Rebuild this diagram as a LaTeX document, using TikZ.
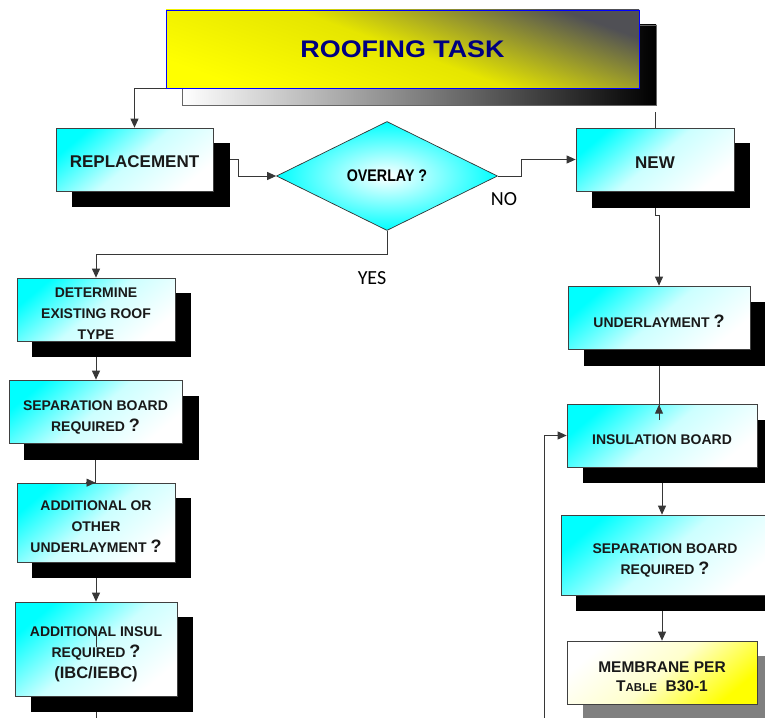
\documentclass[tikz,border=0pt]{standalone}
\usepackage{fontspec}
\setmainfont{Liberation Sans}
\newfontfamily\titlefont{Liberation Sans Bold}[FakeStretch=1.12]
\newfontfamily\narrowfont{Liberation Sans Bold}[FakeStretch=0.85]
\newfontfamily\labelfont{Carlito}
\usetikzlibrary{shapes.geometric,arrows.meta}
\definecolor{navyt}{RGB}{0,0,128}
\definecolor{titlegray}{RGB}{80,80,85}
\definecolor{linegray}{RGB}{55,55,55}
\newcommand{\bigq}{{\fontsize{18}{18}\selectfont ?}}
\newcommand{\dn}[1]{\rule{0pt}{#1}}
\tikzset{
  base/.style={rectangle, inner sep=0pt, anchor=center},
  boxfill/.style={base, draw=black!75, line width=0.7pt, top color=cyan, bottom color=white, middle color=cyan!20, shading angle=40, align=center, font=\bfseries\fontsize{14}{21}\selectfont, text=black!90},
  shadowbox/.style={base, fill=black},
  conn/.style={draw=linegray, line width=0.9pt, -{Triangle[length=9pt,width=8pt]}},
  plain/.style={draw=linegray, line width=0.9pt},
  lbl/.style={font=\labelfont\fontsize{20}{20}\selectfont, inner sep=0pt}
}
\begin{document}
\begin{tikzpicture}[x=1pt,y=-1pt]
\useasboundingbox (0,0) rectangle (765,717);
\clip (0,0) rectangle (765,717);

% title
\node[base, minimum width=474pt, minimum height=80pt, left color=white, right color=black, draw=black!60, line width=0.7pt] (titleS) at (419,65) {};
\node[base, minimum width=473pt, minimum height=78pt, top color=titlegray, bottom color=yellow, middle color=yellow!90!black, shading angle=-20, draw=blue, line width=0.7pt, font=\titlefont\fontsize{24}{24}\selectfont, text=navyt] (title) at (402.5,49) {ROOFING TASK};

% top row
\node[shadowbox, minimum width=158pt, minimum height=64pt] (repS) at (151,175) {};
\node[boxfill, minimum width=157pt, minimum height=63pt, font=\bfseries\fontsize{17}{20}\selectfont] (rep) at (134.5,159.5) {\dn{17pt}REPLACEMENT};
\node[shadowbox, minimum width=158pt, minimum height=65pt] (newS) at (671,175.5) {};
\node[boxfill, minimum width=158pt, minimum height=63pt, font=\bfseries\fontsize{17}{20}\selectfont] (new) at (655,159.5) {\dn{17pt}NEW};
\node[diamond, inner sep=0pt, minimum width=221pt, minimum height=109pt, draw=black!80, line width=0.7pt, inner color=white, outer color=cyan, font=\narrowfont\fontsize{16.8}{17}\selectfont] (ov) at (387,176) {OVERLAY ?};

% left column
\node[shadowbox, minimum width=159pt, minimum height=64pt] (detS) at (111.5,325) {};
\node[boxfill, minimum width=158pt, minimum height=63pt] (det) at (96,309.5) {\dn{18pt}DETERMINE\\EXISTING ROOF\\TYPE};
\node[shadowbox, minimum width=175pt, minimum height=64pt] (sep1S) at (111.5,428) {};
\node[boxfill, minimum width=173pt, minimum height=63pt] (sep1) at (95.5,411.5) {\dn{21pt}SEPARATION BOARD\\REQUIRED \bigq};
\node[shadowbox, minimum width=159pt, minimum height=80pt] (add1S) at (111.5,538) {};
\node[boxfill, minimum width=158pt, minimum height=79pt] (add1) at (96,522.5) {\dn{18pt}ADDITIONAL OR\\OTHER\\UNDERLAYMENT \bigq};
\node[shadowbox, minimum width=162pt, minimum height=95pt] (add2S) at (112,664.5) {};
\node[boxfill, minimum width=162pt, minimum height=94pt] (add2) at (96,649) {\dn{21pt}ADDITIONAL INSUL\\REQUIRED \bigq\\{\fontsize{16.5}{20}\selectfont (IBC/IEBC)}};

% right column
\node[shadowbox, minimum width=182pt, minimum height=64pt] (undS) at (675,334) {};
\node[boxfill, minimum width=182pt, minimum height=63pt] (und) at (659,317.5) {\dn{20pt}UNDERLAYMENT \bigq};
\node[shadowbox, minimum width=190pt, minimum height=63pt] (insS) at (678,451.5) {};
\node[boxfill, minimum width=190pt, minimum height=63pt] (ins) at (662,435.5) {\dn{18pt}INSULATION BOARD};
\node[shadowbox, minimum width=208pt, minimum height=80pt] (sep2S) at (680,571) {};
\node[boxfill, minimum width=208pt, minimum height=80pt] (sep2) at (665,555) {\dn{20pt}SEPARATION BOARD\\REQUIRED \bigq};
\node[base, fill=black!50, minimum width=190pt, minimum height=64pt] (memS) at (678,688) {};
\node[boxfill, top color=white, bottom color=yellow, middle color=yellow!20, shading angle=40, minimum width=190pt, minimum height=63pt, font=\bfseries\fontsize{15.5}{19}\selectfont] (mem) at (662,672.5) {\dn{19pt}MEMBRANE PER\\T{\fontsize{11.5}{12}\selectfont ABLE}\ \ B30-1};

% labels
\node[lbl] (yes) at (372,278) {YES};
\node[lbl] (no) at (504,199) {NO};

% connectors
\draw[conn] (title.south west) -| (rep.north);
\coordinate (tn) at (655,112);
\draw[plain] (tn) -- (new.north);
\draw[conn] (rep.east -| repS.east) -- ++(8,0) |- (ov.west);
\draw[conn] (ov.east) -- ++(24,0) |- (new.west);
\draw[conn] (new.south |- newS.south) -- ++(0,7) -| (und.north);
\draw[conn] (ov.south) -- ++(0,24) -| (det.north);
\draw[conn] (det.south |- detS.south) -- (det.south |- sep1.north);
\draw[plain] (sep1.south |- sep1S.south) -- (sep1.south |- add1.north);
\draw[conn] (sep1.south |- add1.north) ++(-10,0) -- ++(10,0);
\draw[conn] (add1.south |- add1S.south) -- (add1.south |- add2.north);
\draw[plain] (add2.south |- add2S.south) -- ++(0,10);
\draw[plain] (add2.center) ++(0,-19) -- ++(0,17);
\draw[plain] (und.south |- undS.south) -- ++(0,54);
\draw[conn] (und.south |- ins.north) ++(0,16) -- ++(0,-15);
\draw[conn] (ins.south |- insS.south) -- (ins.south |- sep2.north);
\draw[conn] (mem.north |- sep2S.south) -- (mem.north);
\coordinate (fb) at (544,725);
\draw[conn] (fb) |- (ins.west);
\end{tikzpicture}
\end{document}
